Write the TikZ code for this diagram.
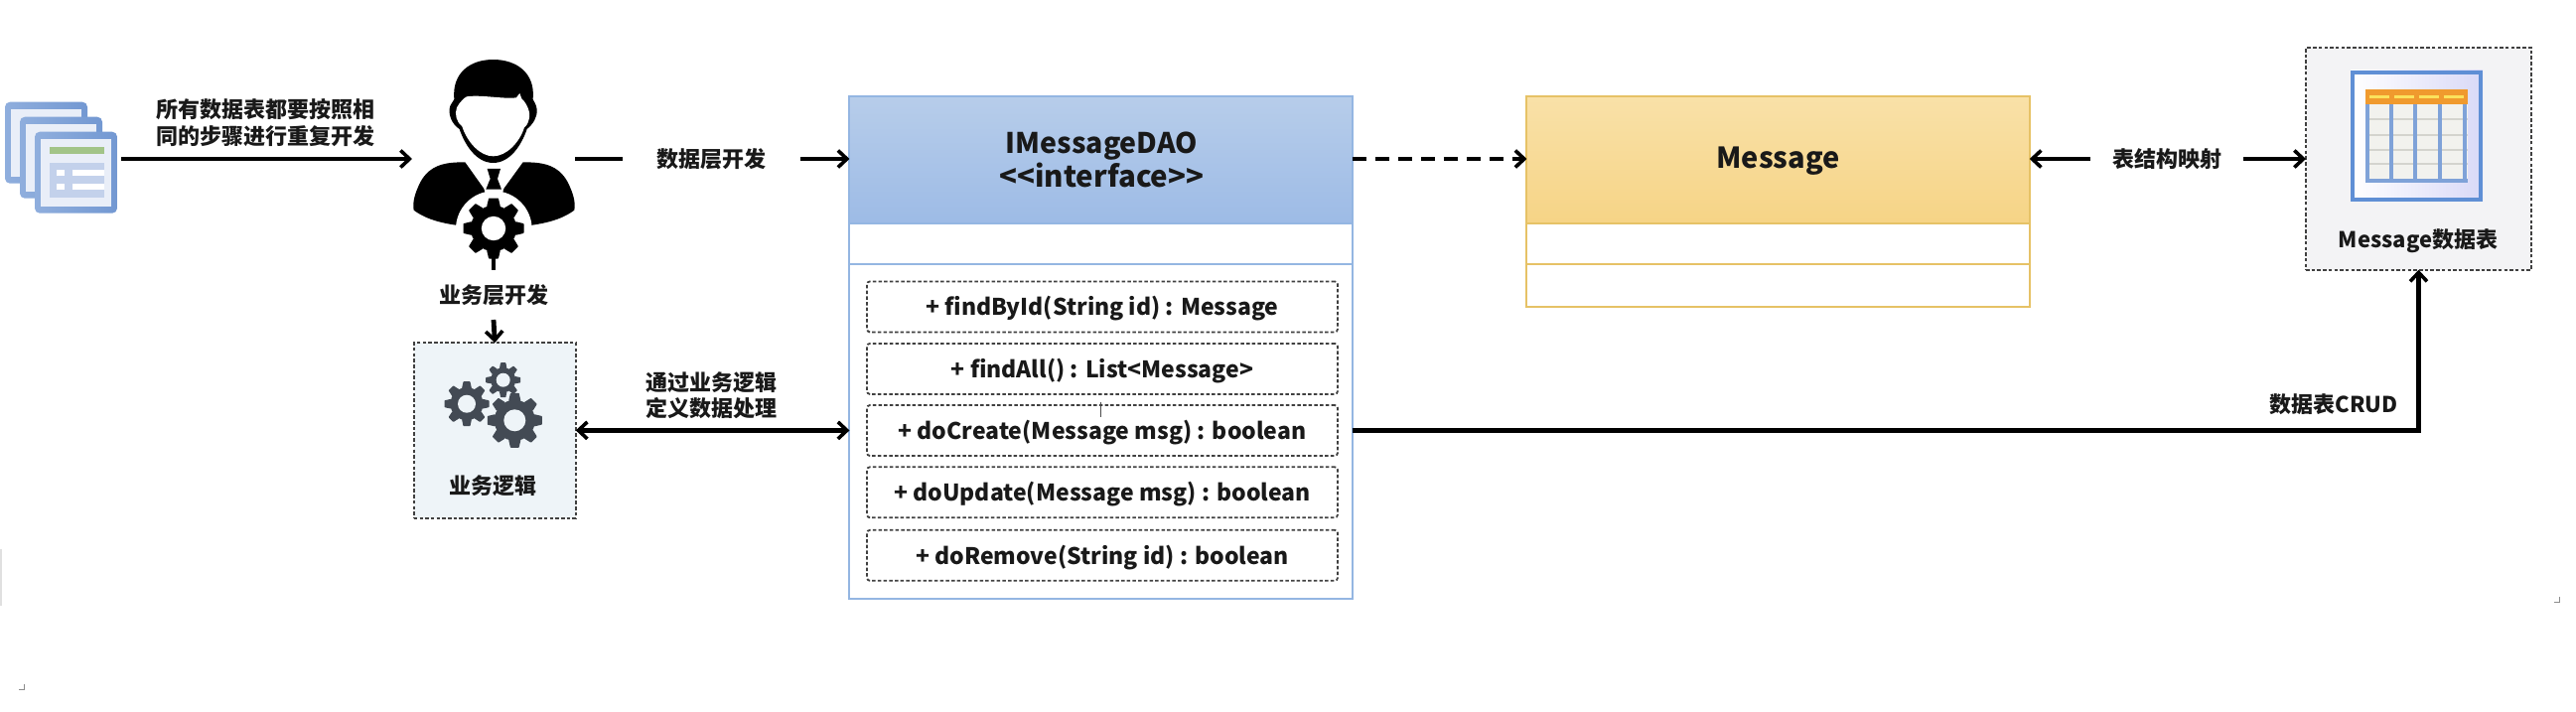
\documentclass[tikz,border=0pt]{standalone}
\usepackage{fontspec}
\setmainfont{Noto Sans CJK SC}
\usetikzlibrary{arrows.meta,calc}
\lineskiplimit=-100pt
\definecolor{bluebd}{HTML}{94B6E2}
\definecolor{yelbd}{HTML}{E6C266}
\definecolor{gearc}{HTML}{434A54}
\definecolor{bizfill}{HTML}{EEF4F8}
\definecolor{docblue}{HTML}{8FAEDD}
\definecolor{docblued}{HTML}{7398D2}
\definecolor{docin}{HTML}{E9EEF8}
\definecolor{docrow}{HTML}{C3D1EB}
\definecolor{docgreen}{HTML}{A2C488}
\definecolor{tblue}{HTML}{5F8FD5}
\definecolor{tblues}{HTML}{7FA2D8}
\definecolor{tcell}{HTML}{F2F2EE}
\definecolor{trow}{HTML}{D4D4CE}
\definecolor{torange}{HTML}{F09A2E}
\definecolor{tyel}{HTML}{FBE25C}
\definecolor{dbfill}{HTML}{F3F3F5}
\tikzset{
  x=1pt,y=-1pt,
  every node/.style={inner sep=0pt,outer sep=0pt,font=\fontsize{22}{26.5}\selectfont\bfseries,text=black!90,align=center},
  conn/.style={line width=4.8pt,black},
  tip/.style={-{Straight Barb[length=9pt,width=17pt,line width=3.6pt]}},
  tiptwo/.style={{Straight Barb[length=9pt,width=17pt,line width=3.6pt]}-{Straight Barb[length=9pt,width=17pt,line width=3.6pt]}},
  tiprev/.style={{Straight Barb[length=9pt,width=17pt,line width=3.6pt]}-},
  gap/.style={fill=white},
  phantombox/.style={draw=none,fill=none},
  methodbox/.style={draw=black!75,line width=1.8pt,dash pattern=on 3.5pt off 2.2pt,rounded corners=3pt,minimum width=474pt,minimum height=51pt,text height=21pt,text depth=3pt,font=\fontsize{23}{28}\selectfont\bfseries},
  dashbox/.style={draw=black!75,line width=1.8pt,dash pattern=on 3.5pt off 2.2pt},
  uml/.style={fill=white,line width=2pt},
}
\newcommand{\cogwheel}[7]{% cx cy router rroot rhole teeth color
  \begin{scope}[shift={(#1,#2)}]
    \fill[#7] (0,0) circle[radius=#4];
    \foreach \a in {1,...,#6}{
      \pgfmathsetmacro{\ang}{360*\a/#6}
      \fill[#7,rounded corners=0.6pt,rotate=\ang]
        (#4-1,-0.30*#4) -- (#3,-0.21*#4) -- (#3,0.21*#4) -- (#4-1,0.30*#4) -- cycle;
    }
    \fill[#5] (0,0) circle[radius=0.4*#3];
  \end{scope}
}
\begin{document}
\begin{tikzpicture}
\useasboundingbox (0,0) rectangle (2594,716);
\fill[white] (0,0) rectangle (2594,716);
\fill[black!12] (0,553) rectangle (2,610);
\draw[black!45,line width=1pt] (24,689) -- (24,694) -- (19,694);
\draw[black!45,line width=1pt] (2577,601) -- (2577,606) -- (2572,606);

% --- stacked document icon
\foreach \dx/\dy in {5/102.7,20/117.7,35/132.7}{
  \begin{scope}[shift={(\dx,\dy)}]
    \shade[rounded corners=5pt,left color=docblue,right color=docblued] (0,0) rectangle (83,82);
    \fill[docin] (6,7) rectangle (77,75);
  \end{scope}
}
\begin{scope}[shift={(35,132.7)}]
  \fill[docgreen] (15,15) rectangle (70,22);
  \fill[docrow] (15,31) rectangle (70,66);
  \fill[white] (22,38) rectangle (30,44);
  \fill[white] (22,52) rectangle (30,58);
  \fill[white] (38,38) rectangle (70,44);
  \fill[white] (38,52) rectangle (70,58);
\end{scope}
\node[phantombox,minimum width=122pt,minimum height=120pt] (docs) at (61,160) {};

% --- person icon
\begin{scope}[shift={(380,40)},x=0.3333pt,y=-0.3333pt]
  \fill[black] (350,372) .. controls (300,372) and (265,320) .. (248,270)
    .. controls (225,255) and (212,225) .. (220,200)
    .. controls (225,190) and (230,185) .. (232,180)
    .. controls (225,100) and (280,60) .. (350,60)
    .. controls (420,60) and (478,100) .. (470,180)
    .. controls (472,185) and (480,195) .. (482,210)
    .. controls (484,235) and (470,255) .. (452,270)
    .. controls (435,320) and (400,372) .. (350,372) -- cycle;
  \fill[white] (350,352) .. controls (310,352) and (272,310) .. (256,262)
    .. controls (240,250) and (232,225) .. (240,205)
    .. controls (248,190) and (262,175) .. (270,172)
    .. controls (310,165) and (380,180) .. (420,175)
    -- (430,162) -- (436,178)
    .. controls (450,190) and (465,220) .. (458,240)
    .. controls (455,255) and (448,262) .. (444,265)
    .. controls (430,310) and (390,352) .. (350,352) -- cycle;
  \fill[black] (265,370) .. controls (210,370) and (160,375) .. (130,430)
    .. controls (115,460) and (105,490) .. (110,515)
    .. controls (150,545) and (200,555) .. (250,562)
    -- (352,562) -- (322,450) -- cycle;
  \fill[black] (440,370) .. controls (495,370) and (545,375) .. (575,430)
    .. controls (590,460) and (600,490) .. (595,515)
    .. controls (555,545) and (505,555) .. (455,562)
    -- (352,562) -- (382,450) -- cycle;
  \fill[white] (352,572) circle[radius=115];
  \fill[black] (332,390) -- (372,390) -- (363,420) -- (375,452) -- (328,452) -- (341,420) -- cycle;
\end{scope}
\cogwheel{497}{230}{30.5}{23}{white}{8}{black}
\node[phantombox,minimum width=164pt,minimum height=200pt] (person) at (497,160) {};

% --- business box
\node[dashbox,fill=bizfill,minimum width=163pt,minimum height=176.5pt] (biz) at (498.3,433.4) {};
\cogwheel{506.7}{382.7}{17.5}{12.5}{bizfill}{8}{gearc}
\cogwheel{470}{406.7}{22.5}{16.5}{bizfill}{8}{gearc}
\cogwheel{518.3}{423.3}{27.5}{20.5}{bizfill}{8}{gearc}
\node (bizlbl) at (496.7,489) {业务逻辑};

% --- interface class
\node[uml,draw=bluebd,minimum width=506.5pt,minimum height=505.7pt] (dao) at (1108.7,350.1) {};
\node[minimum width=506.5pt,minimum height=127.4pt] (daohead) at (1108.7,161) {};
\shade[top color={rgb,255:red,183;green,205;blue,234},bottom color={rgb,255:red,157;green,187;blue,230},draw=bluebd,line width=2pt] (daohead.north west) rectangle (daohead.south east);
\node[font=\fontsize{29.5}{34.5}\selectfont\bfseries] (daotitle) at (1109.5,161) {{\fontsize{28.5}{34.5}\selectfont IMessageDAO}\\{\fontsize{29.5}{34.5}\selectfont <{}<interface>{}>}};
\draw[bluebd,line width=2pt] (dao.west |- 0,266) -- (dao.east |- 0,266);
\node[methodbox] (m1) at (1110,308.9) {+ findById(String id) : Message};
\node[methodbox] (m2) at (1110,371.4) {+ findAll() : List<Message>};
\node[methodbox] (m3) at (1110,433.5) {+ doCreate(Message msg) : boolean};
\node[methodbox] (m4) at (1110,495.8) {+ doUpdate(Message msg) : boolean};
\node[methodbox] (m5) at (1110,559.3) {+ doRemove(String id) : boolean};
\draw[black!70,line width=1pt] (1108,405) -- (1108,420);

% --- entity class
\node[uml,draw=yelbd,minimum width=506.3pt,minimum height=211.7pt] (msg) at (1790.6,203.2) {};
\node[minimum width=506.3pt,minimum height=127.4pt] (msghead) at (1790.6,161) {};
\shade[top color={rgb,255:red,249;green,225;blue,168},bottom color={rgb,255:red,246;green,212;blue,134},draw=yelbd,line width=2pt] (msghead.north west) rectangle (msghead.south east);
\node[font=\fontsize{29}{34}\selectfont\bfseries] (msgtitle) at (1790.6,162) {Message};
\draw[yelbd,line width=2pt] (msg.west |- 0,266) -- (msg.east |- 0,266);

% --- table box
\node[dashbox,fill=dbfill,minimum width=227pt,minimum height=223.5pt] (db) at (2435.5,160) {};
\shade[left color=white,right color=black!20!blue!15!white] (2367,70.7) rectangle (2500,202.7);
\draw[tblue,line width=4pt] (2369,72.7) rectangle (2498,200.7);
\fill[tcell] (2382,105) rectangle (2485,183);
\foreach \yy in {120,136,151,165}{\fill[trow] (2382,\yy-1) rectangle (2485,\yy+1);}
\foreach \xx in {2383.5,2407.5,2432,2457,2482}{\fill[tblues] (\xx-2,105) rectangle (\xx+2,183);}
\fill[tblues] (2381.5,180) rectangle (2485,184);
\fill[torange] (2381.7,90) rectangle (2485,105);
\foreach \xx in {2386,2411,2436,2461}{\fill[tyel] (\xx,95.5) rectangle ++(20,3.5);}
\node (dblbl) at (2435,242.7) {Message数据表};

% --- connector labels and connectors
\node (lbl1) at (267.8,123.5) {所有数据表都要按照相\\同的步骤进行重复开发};
\draw[conn,tip] (docs.east) -- (person.west);

\node[minimum width=179pt,minimum height=26pt,gap] (lbl2) at (716.5,160) {数据层开发};
\draw[conn] (person.east) -- (lbl2.west);
\draw[conn,tip] (lbl2.east) -- (lbl2.east -| daohead.west);

\node[minimum width=112pt,minimum height=50pt] (lbl3) at (497,297) {业务层开发};
\draw[conn] (person.south) -- (lbl3.north);
\draw[conn,tip] (lbl3.south) -- (biz.north);

\node (lbl4) at (716,398.3) {通过业务逻辑\\定义数据处理};
\draw[conn,tiptwo] (biz.east) -- (biz.east -| dao.west);

\draw[conn,tip,dash pattern=on 14pt off 9pt] (lbl2.east -| daohead.east) -- (lbl2.east -| msghead.west);

\node[minimum width=154pt,minimum height=26pt] (lbl5) at (2182,160) {表结构映射};
\draw[conn,tiprev] (lbl5.west -| msghead.east) -- (lbl5.west);
\draw[conn,tip] (lbl5.east) -- (db.west);

\draw[conn,tip] (biz.east -| dao.east) -| (db.south);
\node[anchor=east] (lbl6) at (2414.4,407.5) {数据表CRUD};
\end{tikzpicture}
\end{document}
